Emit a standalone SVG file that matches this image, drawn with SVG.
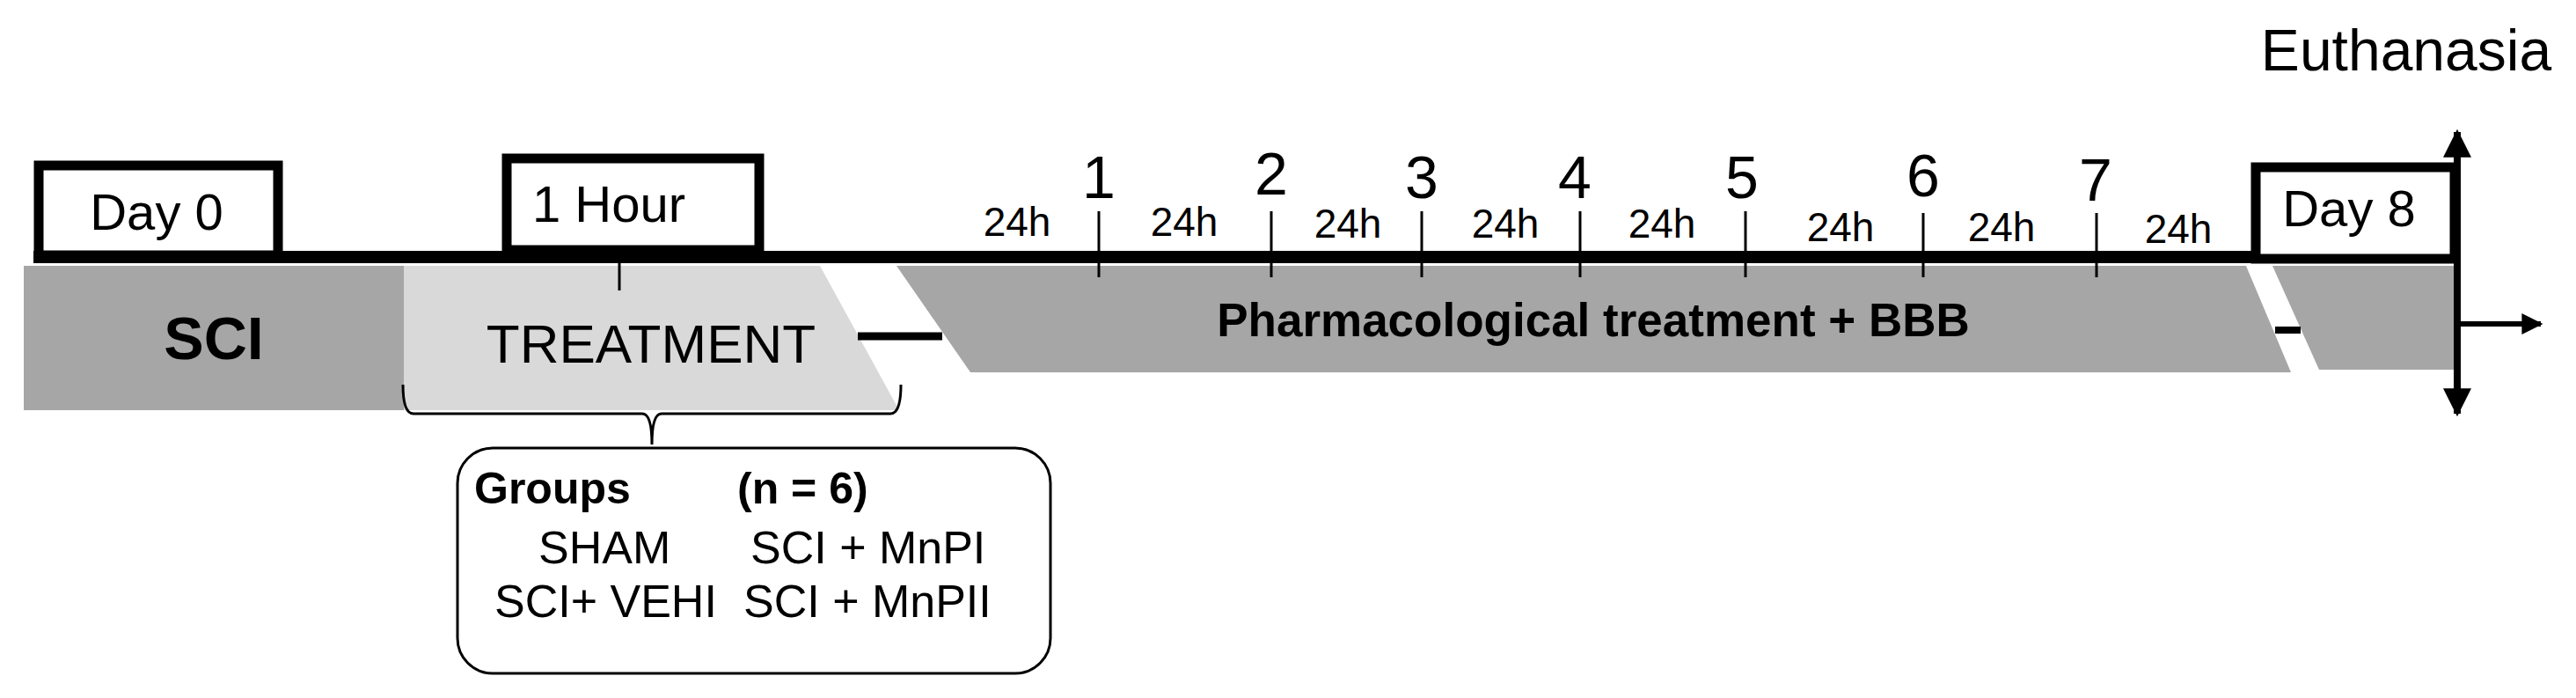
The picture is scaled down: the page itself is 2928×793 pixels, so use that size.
<svg xmlns="http://www.w3.org/2000/svg" width="2928" height="793" viewBox="0 0 2928 793">
<style>
text{font-family:"Liberation Sans Narrow","Liberation Sans",Arial,sans-serif;fill:#000}
.box{fill:#fff;stroke:#000;stroke-width:11}
.tick{stroke:#000;stroke-width:3}
.h{font-size:46px;text-anchor:middle}
.n{font-size:68px;text-anchor:middle}
</style>
<defs>
<marker id="ah" viewBox="0 0 10 10" refX="9" refY="5" markerWidth="4" markerHeight="4" orient="auto-start-reverse" markerUnits="strokeWidth"><path d="M0,0 L10,5 L0,10 Z" fill="#000"/></marker>
</defs>
<rect width="2928" height="793" fill="#fff"/>
<g id="sci"><rect x="27" y="302" width="432" height="164" fill="#a6a6a6"/>
<text x="243" y="408" font-size="68" font-weight="bold" text-anchor="middle" font-family="Liberation Sans, sans-serif">SCI</text></g>
<g id="treatment"><polygon points="459,302 932,302 1022,466 459,466" fill="#d9d9d9"/>
<text x="740" y="412" font-size="62" text-anchor="middle">TREATMENT</text>
<line x1="975" y1="382" x2="1071" y2="382" stroke="#000" stroke-width="9"/></g>
<g id="pharm"><polygon points="1019,302 2553,302 2604,423 1103,423" fill="#a6a6a6"/>
<text x="1811" y="382" font-size="53" font-weight="bold" text-anchor="middle" font-family="Liberation Sans, sans-serif">Pharmacological treatment + BBB</text>
<polygon points="2583,302 2793,302 2793,420 2636,420" fill="#a6a6a6"/>
<line x1="2586" y1="375" x2="2615" y2="375" stroke="#000" stroke-width="8"/></g>
<g id="connectors">
<line x1="38" y1="292" x2="2793" y2="292" stroke="#000" stroke-width="14"/>
<line class="tick" x1="704" y1="259" x2="704" y2="330" stroke-width="5"/>
<line class="tick" x1="1249" y1="240" x2="1249" y2="315"/>
<line class="tick" x1="1445" y1="240" x2="1445" y2="315"/>
<line class="tick" x1="1616" y1="240" x2="1616" y2="315"/>
<line class="tick" x1="1796" y1="240" x2="1796" y2="315"/>
<line class="tick" x1="1984" y1="240" x2="1984" y2="315"/>
<line class="tick" x1="2186" y1="242" x2="2186" y2="315"/>
<line class="tick" x1="2383" y1="242" x2="2383" y2="315"/>
<line x1="2793" y1="470" x2="2793" y2="150" stroke="#000" stroke-width="8" marker-end="url(#ah)" marker-start="url(#ah)"/>
<line x1="2793" y1="368" x2="2888" y2="368" stroke="#000" stroke-width="6" marker-end="url(#ah)"/>
<path d="M458,437 Q458,470 470,470 L730,470 Q741,470 741,505 Q741,470 752,470 L1012,470 Q1024,470 1024,437" fill="none" stroke="#000" stroke-width="3"/>
</g>
<g id="day0"><rect class="box" x="44" y="188" width="272" height="102"/>
<text x="178" y="261" font-size="58" text-anchor="middle">Day 0</text></g>
<g id="hour"><rect class="box" x="576" y="180" width="287" height="104"/>
<text x="692" y="252" font-size="58" text-anchor="middle">1 Hour</text></g>
<g id="day8"><rect class="box" x="2564" y="190" width="226" height="104"/>
<text x="2670" y="257" font-size="58" text-anchor="middle">Day 8</text></g>
<g id="labels">
<text class="h" x="1156" y="268">24h</text><text class="h" x="1346" y="268">24h</text>
<text class="h" x="1532" y="270">24h</text><text class="h" x="1711" y="270">24h</text>
<text class="h" x="1889" y="270">24h</text><text class="h" x="2092" y="274">24h</text>
<text class="h" x="2275" y="274">24h</text><text class="h" x="2476" y="276">24h</text>
<text class="n" x="1249" y="225">1</text><text class="n" x="1445" y="221">2</text>
<text class="n" x="1616" y="225">3</text><text class="n" x="1790" y="225">4</text>
<text class="n" x="1980" y="225">5</text><text class="n" x="2186" y="223">6</text>
<text class="n" x="2382" y="228">7</text>
<text x="2735" y="80" font-size="66" text-anchor="middle">Euthanasia</text>
</g>
<g id="groups"><rect x="520" y="509" width="674" height="256" rx="40" fill="#fff" stroke="#000" stroke-width="3"/>
<text x="539" y="572" font-size="50" font-weight="bold">Groups</text>
<text x="838" y="572" font-size="50" font-weight="bold">(n = 6)</text>
<text x="612" y="640" font-size="52">SHAM</text>
<text x="853" y="640" font-size="52">SCI + MnPI</text>
<text x="562" y="701" font-size="52">SCI+ VEHI</text>
<text x="845" y="701" font-size="52">SCI + MnPII</text></g>
</svg>
